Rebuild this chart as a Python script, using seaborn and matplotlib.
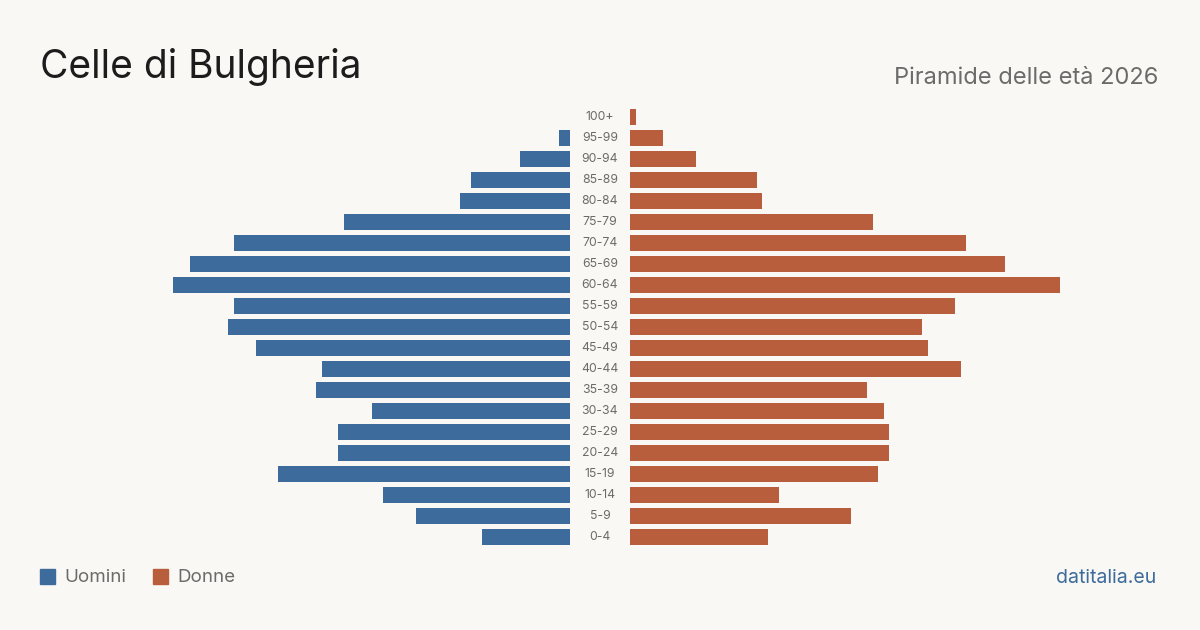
import numpy as np
import pandas as pd
import matplotlib
matplotlib.use("Agg")
import matplotlib.pyplot as plt
import seaborn as sns
from matplotlib.patches import Rectangle

# fasce di eta (dall'alto verso il basso)
age_groups = ["100+", "95-99", "90-94", "85-89", "80-84", "75-79", "70-74",
              "65-69", "60-64", "55-59", "50-54", "45-49", "40-44", "35-39",
              "30-34", "25-29", "20-24", "15-19", "10-14", "5-9", "0-4"]
uomini = [0, 2, 9, 18, 20, 41, 61, 69, 72, 61, 62, 57, 45, 46, 36, 42, 42, 53, 34, 28, 16]
donne = [1, 6, 12, 23, 24, 44, 61, 68, 78, 59, 53, 54, 60, 43, 46, 47, 47, 45, 27, 40, 25]

BG = "#f9f8f4"
BLUE = "#3d6b9b"
ORANGE = "#b95e3d"
GREY = "#6b6b6b"

sns.set_theme(style="white")
plt.rcParams['font.family'] = ['Inter', 'DejaVu Sans']

df = pd.DataFrame({"eta": age_groups, "uomini": uomini, "donne": donne})
xmax = max(max(uomini), max(donne))

W, H = 1200, 630
fig = plt.figure(figsize=(12, 6.3), dpi=100, facecolor=BG)

def px_axes(x0, x1, y0, y1):
    return fig.add_axes([x0 / W, 1 - y1 / H, (x1 - x0) / W, (y1 - y0) / H])

top, bottom = 106.5, 547.5
ax_l = px_axes(140, 570, top, bottom)
ax_r = px_axes(630, 1060, top, bottom)

sns.barplot(data=df, x="uomini", y="eta", orient="h", color=BLUE,
            width=0.8, saturation=1, linewidth=0, ax=ax_l)
sns.barplot(data=df, x="donne", y="eta", orient="h", color=ORANGE,
            width=0.8, saturation=1, linewidth=0, ax=ax_r)

for ax in (ax_l, ax_r):
    ax.set_facecolor("none")
    ax.set_xlim(0, xmax)
    ax.set_ylim(len(age_groups) - 0.5, -0.5)
    ax.set_xlabel("")
    ax.set_ylabel("")
    ax.set_xticks([])
    ax.set_yticks([])
    sns.despine(ax=ax, left=True, bottom=True)
ax_l.invert_xaxis()

# etichette delle fasce al centro
row_h = (bottom - top) / len(age_groups)
for i, lab in enumerate(age_groups):
    y = top + row_h * (i + 0.5)
    fig.text(600 / W, 1 - y / H, lab, ha="center", va="center",
             fontsize=8.8, color=GREY)

fig.text(40 / W, 1 - 67 / H, "Celle di Bulgheria", ha="left", va="center",
         fontsize=28, color="#1c1c1c")
fig.text(1158 / W, 1 - 78 / H, "Piramide delle età 2026", ha="right",
         va="center", fontsize=17, color=GREY)

# legenda
fig.patches.append(Rectangle((40 / W, 1 - 584 / H), 15 / W, 15 / H,
                             transform=fig.transFigure, color=BLUE))
fig.text(64 / W, 1 - 578 / H, "Uomini", ha="left", va="center",
         fontsize=13.5, color=GREY)
fig.patches.append(Rectangle((153 / W, 1 - 584 / H), 15 / W, 15 / H,
                             transform=fig.transFigure, color=ORANGE))
fig.text(177 / W, 1 - 578 / H, "Donne", ha="left", va="center",
         fontsize=13.5, color=GREY)

fig.text(1156 / W, 1 - 578 / H, "datitalia.eu", ha="right", va="center",
         fontsize=14, color=BLUE)

fig.savefig("out.png", dpi=100, facecolor=BG)
